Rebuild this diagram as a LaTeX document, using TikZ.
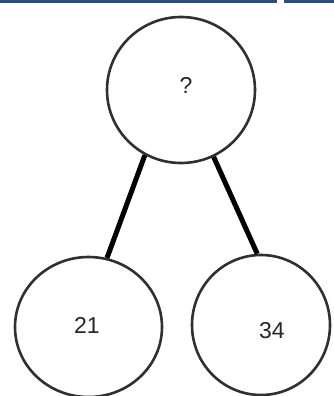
\documentclass[tikz,border=0pt]{standalone}
\usepackage{fontspec}
\setmainfont{Liberation Sans}
\usetikzlibrary{shapes.geometric}
\definecolor{barblue}{HTML}{2E4D7F}
\definecolor{ringgray}{HTML}{303030}
\tikzset{
  ring/.style={ellipse, draw=ringgray, line width=2.6pt, inner sep=0pt, fill=white,
    font=\fontsize{23}{23}\selectfont, text=black!85},
  stem/.style={line width=5pt, black}
}
\begin{document}
\begin{tikzpicture}[x=1pt,y=-1pt]
\useasboundingbox (0,0) rectangle (334,396);
\fill[white] (0,0) rectangle (334,396);
\fill[barblue] (0,0) rectangle (334,3);
\fill[white] (277,0) rectangle (284,3);
\node[ring, minimum width=148pt, minimum height=146pt] (top) at (181,90) {};
\node[ring, minimum width=147pt, minimum height=140pt] (left) at (88.5,327) {};
\node[ring, minimum width=138pt, minimum height=140pt] (right) at (261,325) {};
\node[font=\fontsize{23}{23}\selectfont, text=black!85] (q) at (186,85) {?};
\node[font=\fontsize{23}{23}\selectfont, text=black!85] (a) at (87,325) {21};
\node[font=\fontsize{23}{23}\selectfont, text=black!85] (b) at (272,331) {34};
\draw[stem] (top.241.6) -- (left.75);
\draw[stem] (top.296.2) -- (right.93);
\end{tikzpicture}
\end{document}
